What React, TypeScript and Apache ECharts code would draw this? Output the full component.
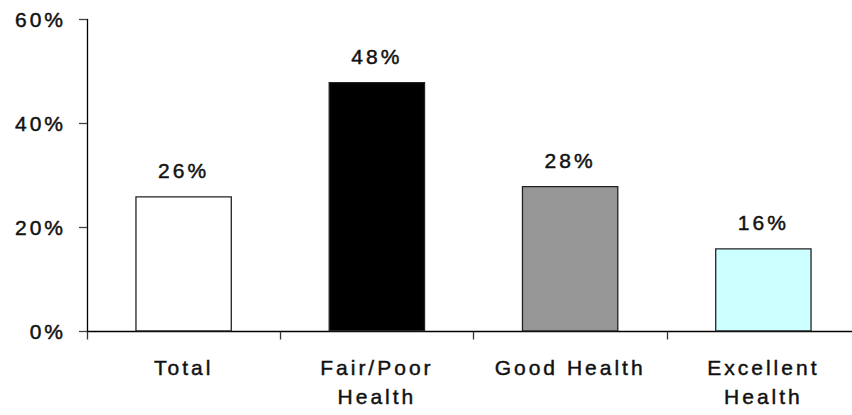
import React, { useEffect, useRef } from "react";
import * as echarts from "echarts";

const categories = ["Total", "Fair/Poor\nHealth", "Good Health", "Excellent\nHealth"];
const values = [26, 48, 28, 16];
const barColors = ["#ffffff", "#000000", "#969696", "#ccffff"];
const yTicks = [0, 20, 40, 60];

const FONT = "Arial, 'Liberation Sans', sans-serif";
const textBase = {
  color: "#111",
  fontFamily: FONT,
  fontWeight: "normal",
  fontSize: 21,
  textBorderColor: "#111",
  textBorderWidth: 0.45,
};

export default function App() {
  const ref = useRef<HTMLDivElement>(null);
  useEffect(() => {
    if (!ref.current) return;
    const chart = echarts.init(ref.current, null, { renderer: "svg" });
    chart.setOption({
      animation: false,
      backgroundColor: "#ffffff",
      grid: { left: 87, top: 19.5, width: 773, height: 312, containLabel: false },
      xAxis: {
        type: "category",
        data: categories,
        axisLine: { lineStyle: { color: "#000", width: 1.3 } },
        axisTick: { show: true, length: 8, lineStyle: { color: "#333", width: 1.3 } },
        axisLabel: {
          ...textBase,
          lineHeight: 29,
          margin: 21,
          interval: 0,
        },
      },
      yAxis: {
        type: "value",
        min: yTicks[0],
        max: yTicks[yTicks.length - 1],
        interval: 20,
        axisLine: { show: true, lineStyle: { color: "#000", width: 1.3 } },
        axisTick: { show: true, length: 8, lineStyle: { color: "#444", width: 1.3 } },
        splitLine: { show: false },
        axisLabel: {
          ...textBase,
          formatter: "{value}%",
          margin: 21,
        },
      },
      series: [
        {
          type: "bar",
          barWidth: "50%",
          data: values.map((v, i) => ({
            value: v,
            itemStyle: { color: barColors[i], borderColor: "#222", borderWidth: 1.3 },
          })),
          label: {
            ...textBase,
            show: true,
            position: "top",
            distance: 15,
            formatter: "{c}%",
          },
        },
      ],
    });
    return () => chart.dispose();
  }, []);
  return (
    <div style={{ position: "absolute", left: 0, top: 0, width: 852, height: 415, overflow: "hidden" }}>
      <div ref={ref} style={{ width: 870, height: 415, letterSpacing: "3px" }} />
    </div>
  );
}
